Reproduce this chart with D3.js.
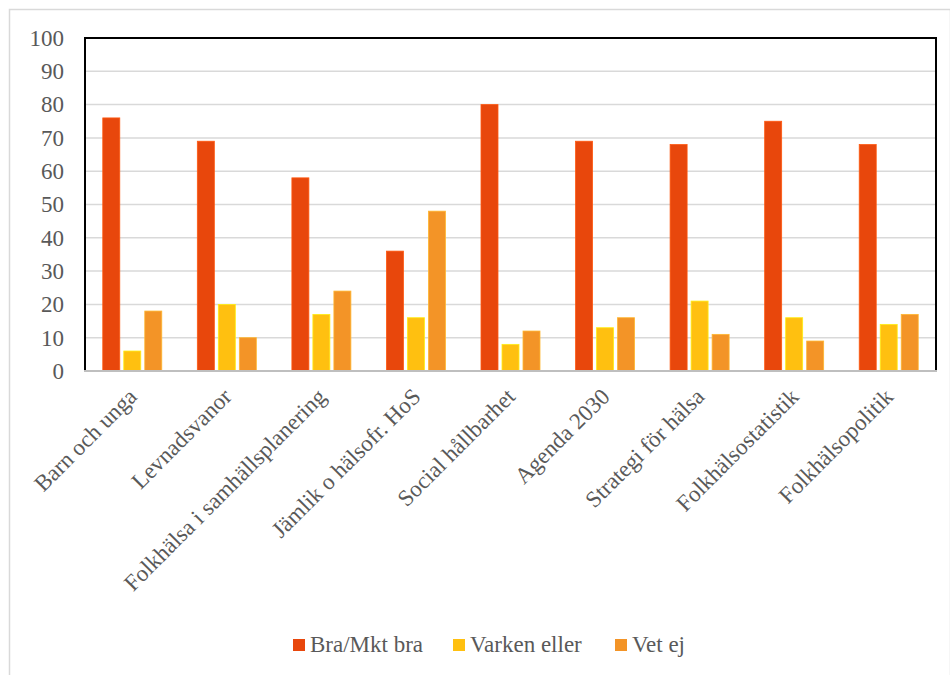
<!DOCTYPE html>
<html><head><meta charset="utf-8">
<script src="https://cdn.jsdelivr.net/npm/d3@7"></script>
<style>body{margin:0;background:#fff}svg{display:block}</style>
</head><body>
<script>
const categories = ["Barn och unga","Levnadsvanor","Folkhälsa i samhällsplanering","Jämlik o hälsofr. HoS","Social hållbarhet","Agenda 2030","Strategi för hälsa","Folkhälsostatistik","Folkhälsopolitik"];
const seriesNames = ["Bra/Mkt bra","Varken eller","Vet ej"];
const braMkt = [76,69,58,36,80,69,68,75,68];
const varken = [6,20,17,16,8,13,21,16,14];
const vetEj = [18,10,24,48,12,16,11,9,17];
const yTicks = [0,10,20,30,40,50,60,70,80,90,100];
const colors = ["#E8470C","#FFC010","#F39427"];

const W=950,H=675;
const FONT='"Liberation Serif", "Times New Roman", serif';
const svg=d3.select("body").append("svg").attr("width",W).attr("height",H);
svg.append("rect").attr("x",9.5).attr("y",9.5).attr("width",W-9).attr("height",H).attr("fill","#fff").attr("stroke","#d9d9d9").attr("stroke-width",1.5);

const m={l:85,r:936,t:38,b:371};
const x=d3.scaleBand().domain(categories).range([m.l,m.r]).paddingInner(0).paddingOuter(0);
const y=d3.scaleLinear().domain([0,100]).range([m.b,m.t]);

// gridlines
svg.append("g").selectAll("line").data(yTicks.filter(d=>d>0)).join("line")
 .attr("x1",m.l).attr("x2",m.r).attr("y1",d=>y(d)).attr("y2",d=>y(d))
 .attr("stroke","#d9d9d9").attr("stroke-width",1.5);

// bars
const series=[braMkt,varken,vetEj];
const bw=17, gap=4;
series.forEach((vals,si)=>{
  svg.append("g").selectAll("rect").data(vals).join("rect")
   .attr("x",(d,i)=>x(categories[i])+x.bandwidth()/2-bw*1.5-gap+si*(bw+gap))
   .attr("y",d=>y(d)).attr("width",bw).attr("height",d=>y(0)-y(d))
   .attr("fill",colors[si]).attr("stroke",d3.color(colors[si]).brighter(0.6)).attr("stroke-width",0.8);
});

// plot border (black left/top/right)
svg.append("path").attr("d",`M${m.l},${m.b}V${m.t}H${m.r}V${m.b}`).attr("fill","none").attr("stroke","#000").attr("stroke-width",2);
// bottom axis
svg.append("line").attr("x1",m.l-1).attr("x2",m.r+1).attr("y1",m.b).attr("y2",m.b).attr("stroke","#bfbfbf").attr("stroke-width",2);

// y labels
const yAxis=d3.axisLeft(y).tickValues(yTicks).tickSize(0).tickPadding(21);
const ya=svg.append("g").attr("transform",`translate(${m.l},0)`).call(yAxis);
ya.select(".domain").remove();
ya.attr("font-family",null).attr("font-size",null);
ya.selectAll("text").style("font-family",FONT).style("font-size","23px").attr("fill","#595959");

// x labels
const xa=svg.append("g");
xa.selectAll("text").data(categories).join("text")
 .attr("transform",d=>`translate(${x(d)+x.bandwidth()/2+6},${398}) rotate(-45)`)
 .attr("text-anchor","end").style("font-family",FONT).style("font-size","23px").attr("fill","#595959")
 .text(d=>d);

// legend
const legX=[293,453,615];
const lg=svg.append("g");
seriesNames.forEach((n,i)=>{
  lg.append("rect").attr("x",legX[i]).attr("y",639).attr("width",12).attr("height",12).attr("fill",colors[i]);
  lg.append("text").attr("x",legX[i]+17).attr("y",652).style("font-family",FONT).style("font-size","23px").attr("fill","#595959").text(n);
});
</script>
</body></html>
